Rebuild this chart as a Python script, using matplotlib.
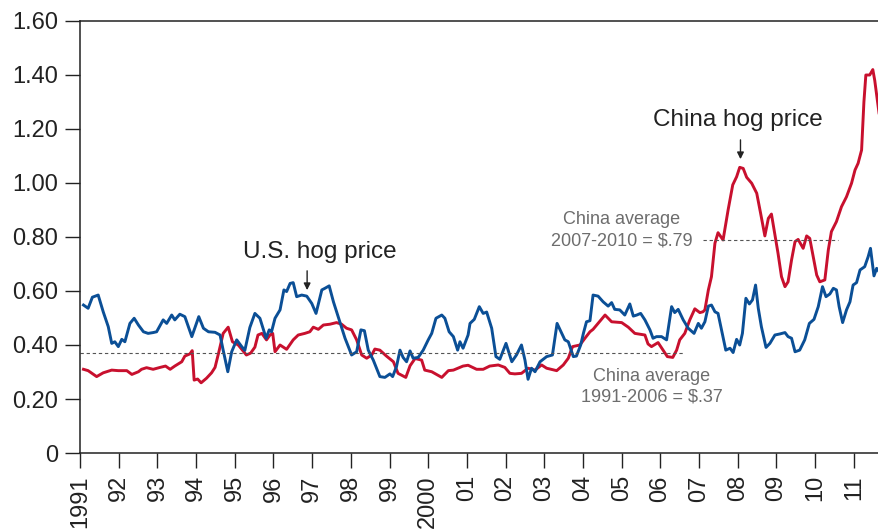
import matplotlib
matplotlib.use("Agg")
import matplotlib.pyplot as plt

plt.rcParams["font.family"] = ["Liberation Sans", "DejaVu Sans"]

# ---------------------------------------------------------------------------
# Dados (ano decimal, US$ por libra)
# ---------------------------------------------------------------------------
us_anos = [
    1991.09, 1991.21, 1991.32, 1991.47, 1991.60, 1991.73, 1991.82, 1991.90, 1991.99,
    1992.08, 1992.16, 1992.29, 1992.40, 1992.51, 1992.64, 1992.76, 1992.89, 1992.98,
    1993.15, 1993.24, 1993.37, 1993.45, 1993.58, 1993.71, 1993.89,
    1994.07, 1994.19, 1994.32, 1994.49, 1994.62, 1994.70, 1994.82, 1994.92,
    1995.05, 1995.18, 1995.26, 1995.39, 1995.52, 1995.65, 1995.81, 1995.89, 1995.95,
    1996.04, 1996.17, 1996.27, 1996.34, 1996.43, 1996.51, 1996.60, 1996.73, 1996.86, 1996.99,
    1997.10, 1997.25, 1997.33, 1997.44, 1997.55, 1997.70, 1997.85,
    1998.02, 1998.15, 1998.26, 1998.35, 1998.45, 1998.58, 1998.75, 1998.88,
    1999.01, 1999.08, 1999.18, 1999.27, 1999.35, 1999.44, 1999.53, 1999.61, 1999.74, 1999.87,
    2000.00, 2000.09, 2000.20, 2000.35, 2000.43, 2000.54, 2000.65, 2000.76, 2000.82, 2000.90,
    2001.03, 2001.08, 2001.19, 2001.32, 2001.42, 2001.51, 2001.64, 2001.75, 2001.85,
    2002.01, 2002.16, 2002.28, 2002.41, 2002.50, 2002.58, 2002.67, 2002.76, 2002.89,
    2003.06, 2003.21, 2003.33, 2003.45, 2003.53, 2003.62, 2003.75, 2003.83, 2003.94,
    2004.01, 2004.09, 2004.18, 2004.26, 2004.39, 2004.52, 2004.65, 2004.74, 2004.82, 2004.95,
    2005.08, 2005.21, 2005.30, 2005.39, 2005.49, 2005.60, 2005.73, 2005.81, 2005.90,
    2006.03, 2006.16, 2006.29, 2006.37, 2006.46, 2006.59, 2006.72, 2006.87, 2006.98,
    2007.06, 2007.15, 2007.24, 2007.32, 2007.41, 2007.49, 2007.58, 2007.69, 2007.80, 2007.88, 2007.97,
    2008.05, 2008.12, 2008.21, 2008.30, 2008.38, 2008.46, 2008.53, 2008.61, 2008.73, 2008.83, 2008.96,
    2009.09, 2009.22, 2009.30, 2009.39, 2009.48, 2009.60, 2009.73, 2009.85, 2009.97,
    2010.08, 2010.19, 2010.28, 2010.38, 2010.47, 2010.55, 2010.62, 2010.71, 2010.81, 2010.90, 2010.98,
    2011.07, 2011.16, 2011.28, 2011.37, 2011.43, 2011.52, 2011.59, 2011.65,
]
us_preco = [
    0.548, 0.536, 0.577, 0.585, 0.523, 0.468, 0.406, 0.412, 0.394,
    0.421, 0.412, 0.480, 0.499, 0.474, 0.449, 0.443, 0.446, 0.449,
    0.493, 0.480, 0.511, 0.493, 0.514, 0.505, 0.431,
    0.505, 0.462, 0.449, 0.447, 0.437, 0.381, 0.301, 0.375,
    0.419, 0.394, 0.380, 0.465, 0.517, 0.499, 0.425, 0.456, 0.449,
    0.499, 0.530, 0.604, 0.598, 0.628, 0.631, 0.579, 0.585, 0.581, 0.554,
    0.517, 0.604, 0.610, 0.619, 0.560, 0.493, 0.425,
    0.363, 0.375, 0.456, 0.453, 0.381, 0.344, 0.283, 0.280,
    0.293, 0.283, 0.320, 0.381, 0.354, 0.338, 0.378, 0.351, 0.354, 0.381,
    0.419, 0.443, 0.499, 0.511, 0.499, 0.449, 0.431, 0.381, 0.412, 0.388,
    0.437, 0.480, 0.495, 0.542, 0.517, 0.522, 0.462, 0.357, 0.347,
    0.406, 0.338, 0.363, 0.400, 0.344, 0.273, 0.314, 0.301, 0.338,
    0.357, 0.363, 0.480, 0.443, 0.419, 0.412, 0.357, 0.359, 0.400,
    0.443, 0.486, 0.490, 0.585, 0.581, 0.560, 0.544, 0.557, 0.532, 0.530,
    0.511, 0.552, 0.507, 0.511, 0.517, 0.493, 0.456, 0.425, 0.431,
    0.431, 0.419, 0.542, 0.520, 0.532, 0.493, 0.462, 0.443, 0.480,
    0.462, 0.486, 0.544, 0.548, 0.523, 0.517, 0.456, 0.381, 0.388, 0.372, 0.421,
    0.400, 0.443, 0.573, 0.552, 0.567, 0.622, 0.536, 0.468, 0.391, 0.406, 0.437,
    0.441, 0.446, 0.431, 0.425, 0.375, 0.381, 0.419, 0.480, 0.495,
    0.542, 0.616, 0.579, 0.589, 0.610, 0.604, 0.542, 0.483, 0.530, 0.560, 0.622,
    0.631, 0.678, 0.690, 0.727, 0.758, 0.656, 0.684, 0.672,
]

china_anos = [
    1991.09, 1991.21, 1991.43, 1991.60, 1991.82, 1991.99,
    1992.21, 1992.34, 1992.51, 1992.59, 1992.72, 1992.89,
    1993.07, 1993.21, 1993.33, 1993.45, 1993.63, 1993.71, 1993.84, 1993.90, 1993.95,
    1994.04, 1994.13, 1994.27, 1994.40, 1994.49, 1994.59, 1994.70, 1994.83, 1994.94,
    1995.09, 1995.30, 1995.41, 1995.52, 1995.60, 1995.70, 1995.82, 1995.91, 1995.98,
    1996.04, 1996.17, 1996.34, 1996.51, 1996.64, 1996.81, 1996.94,
    1997.03, 1997.16, 1997.29, 1997.46, 1997.63, 1997.76, 1997.89,
    1998.02, 1998.15, 1998.28, 1998.41, 1998.54, 1998.62, 1998.75, 1998.92,
    1999.10, 1999.22, 1999.42, 1999.53, 1999.66, 1999.83, 1999.91,
    2000.09, 2000.35, 2000.52, 2000.65, 2000.90,
    2001.03, 2001.25, 2001.42, 2001.59, 2001.81, 2001.98,
    2002.11, 2002.24, 2002.41, 2002.58, 2002.76, 2002.93,
    2003.06, 2003.32, 2003.49, 2003.62, 2003.73, 2003.92,
    2004.05, 2004.18, 2004.26, 2004.39, 2004.57, 2004.74,
    2005.00, 2005.17, 2005.34, 2005.60, 2005.68, 2005.77, 2005.94,
    2006.07, 2006.18, 2006.32, 2006.42, 2006.50, 2006.63, 2006.76, 2006.89,
    2007.02, 2007.10, 2007.15, 2007.24, 2007.32, 2007.41, 2007.49, 2007.62, 2007.75, 2007.87, 2007.97,
    2008.05, 2008.14, 2008.23, 2008.36, 2008.49, 2008.59, 2008.70, 2008.79, 2008.87, 2008.96,
    2009.04, 2009.13, 2009.22, 2009.30, 2009.39, 2009.48, 2009.56, 2009.69, 2009.78, 2009.86, 2009.95,
    2010.04, 2010.12, 2010.25, 2010.34, 2010.42, 2010.55, 2010.68, 2010.81, 2010.94,
    2011.03, 2011.11, 2011.20, 2011.26, 2011.31, 2011.41, 2011.49, 2011.54, 2011.65,
]
china_preco = [
    0.310, 0.305, 0.283, 0.297, 0.307, 0.305,
    0.305, 0.291, 0.301, 0.310, 0.316, 0.310,
    0.317, 0.322, 0.310, 0.322, 0.338, 0.359, 0.367, 0.379, 0.270,
    0.274, 0.260, 0.277, 0.297, 0.317, 0.375, 0.443, 0.466, 0.412,
    0.400, 0.363, 0.370, 0.392, 0.437, 0.443, 0.419, 0.437, 0.443,
    0.375, 0.400, 0.384, 0.419, 0.437, 0.443, 0.449,
    0.466, 0.458, 0.474, 0.477, 0.483, 0.477, 0.462,
    0.456, 0.419, 0.363, 0.351, 0.363, 0.385, 0.381, 0.359,
    0.338, 0.295, 0.280, 0.323, 0.350, 0.344, 0.307,
    0.301, 0.280, 0.305, 0.307, 0.322,
    0.325, 0.310, 0.310, 0.322, 0.326, 0.317,
    0.295, 0.293, 0.295, 0.314, 0.307, 0.326,
    0.314, 0.305, 0.326, 0.351, 0.394, 0.400,
    0.425, 0.449, 0.458, 0.480, 0.511, 0.486,
    0.483, 0.466, 0.443, 0.437, 0.404, 0.394, 0.409,
    0.381, 0.357, 0.354, 0.381, 0.419, 0.443, 0.493, 0.534,
    0.520, 0.523, 0.530, 0.604, 0.653, 0.777, 0.816, 0.789, 0.900, 0.993, 1.023,
    1.058, 1.054, 1.021, 0.999, 0.962, 0.888, 0.804, 0.869, 0.885, 0.807,
    0.740, 0.653, 0.616, 0.634, 0.715, 0.783, 0.791, 0.758, 0.804, 0.795, 0.727,
    0.659, 0.634, 0.641, 0.752, 0.820, 0.857, 0.912, 0.949, 0.999,
    1.048, 1.073, 1.122, 1.300, 1.400, 1.400, 1.420, 1.380, 1.260,
]

# Médias da China (período e valor)
media_antiga = (1991.0, 2006.6, 0.37)
media_recente = (2007.1, 2010.6, 0.79)

anos_ticks = list(range(1991, 2012))
rotulos_x = ["1991", "92", "93", "94", "95", "96", "97", "98", "99", "2000",
             "01", "02", "03", "04", "05", "06", "07", "08", "09", "10", "11"]
valores_y = [0, 0.2, 0.4, 0.6, 0.8, 1.0, 1.2, 1.4, 1.6]
rotulos_y = ["0", "0.20", "0.40", "0.60", "0.80", "1.00", "1.20", "1.40", "1.60"]

# ---------------------------------------------------------------------------
AZUL = "#0b4f96"
VERMELHO = "#c8102e"
CINZA = "#6d6d6d"
TINTA = "#222222"

fig = plt.figure(figsize=(8.79, 5.29), dpi=100, facecolor="white")
ax = fig.add_axes([80 / 879, 1 - 453 / 529, 1 - 80 / 879, 432 / 529])

ax.plot(china_anos, china_preco, color=VERMELHO, linewidth=2.1, solid_joinstyle="round")
ax.plot(us_anos, us_preco, color=AZUL, linewidth=2.1, solid_joinstyle="round")

for ini, fim, v in (media_antiga, media_recente):
    ax.plot([ini, fim], [v, v], color="#555555", linewidth=0.8, linestyle=(0, (3, 2.5)))

ax.set_xlim(1991, 2011.65)
ax.set_ylim(0, 1.6)
ax.set_xticks(anos_ticks)
ax.set_xticklabels(rotulos_x, rotation=90, fontsize=17, color=TINTA)
ax.set_yticks(valores_y)
ax.set_yticklabels(rotulos_y, fontsize=17, color=TINTA)
ax.tick_params(axis="x", length=11, width=1.0, color=TINTA, pad=5, direction="out")
ax.tick_params(axis="y", length=11, width=1.0, color=TINTA, pad=5, direction="out")

ax.spines["right"].set_visible(False)
for lado in ("left", "bottom", "top"):
    ax.spines[lado].set_color(TINTA)
    ax.spines[lado].set_linewidth(1.1)

# Anotações
ax.annotate("", xy=(1996.87, 0.593), xytext=(1996.87, 0.685),
            arrowprops=dict(arrowstyle="-|>", color=TINTA, lw=1.0, mutation_scale=10))
ax.text(1997.2, 0.745, "U.S. hog price", ha="center", va="center", fontsize=17.5, color=TINTA)

ax.annotate("", xy=(2008.07, 1.078), xytext=(2008.07, 1.170),
            arrowprops=dict(arrowstyle="-|>", color=TINTA, lw=1.0, mutation_scale=10))
ax.text(2008.0, 1.232, "China hog price", ha="center", va="center", fontsize=17.5, color=TINTA)

ax.text(2005.0, 0.825, "China average\n2007-2010 = $.79", ha="center", va="center",
        fontsize=13, color=CINZA, linespacing=1.3)
ax.text(2005.77, 0.245, "China average\n1991-2006 = $.37", ha="center", va="center",
        fontsize=13, color=CINZA, linespacing=1.3)

fig.savefig("out.png", dpi=100, facecolor="white")
